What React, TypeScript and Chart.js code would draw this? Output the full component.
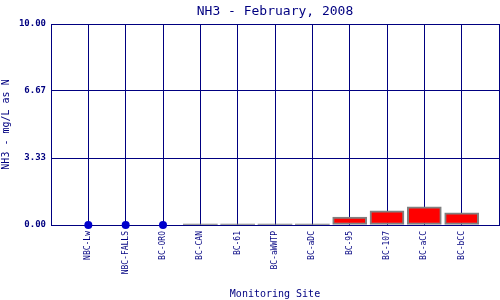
import React, { useEffect, useRef } from "react";
import { Chart, registerables } from "chart.js";

Chart.register(...registerables);

const titleText = "NH3 - February, 2008";
const sites = ["NBC-Lw", "NBC-FALLS", "BC-ORO", "BC-CAN", "BC-61", "BC-aWWTP", "BC-aDC", "BC-95", "BC-107", "BC-aCC", "BC-bCC"];
const barValues = [null, null, null, 0, 0, 0, 0, 0.4, 0.7, 0.9, 0.6];
const dotValues = [0, 0, 0, null, null, null, null, null, null, null, null];
const yTicks = [0, 3.33, 6.67, 10];

const NAVY = "#000080";
const FONT = "'DejaVu Sans Mono', 'Liberation Mono', monospace";

const areaTitle = {
  id: "areaTitle",
  afterDraw(chart: any) {
    const { ctx, chartArea } = chart;
    ctx.save();
    ctx.fillStyle = NAVY;
    ctx.font = `13px ${FONT}`;
    ctx.textAlign = "center";
    ctx.textBaseline = "middle";
    ctx.fillText(titleText, (chartArea.left + chartArea.right) / 2, 12);
    ctx.restore();
  },
};

export default function App() {
  const ref = useRef<HTMLCanvasElement>(null);
  useEffect(() => {
    document.body.style.margin = "0";
    const bars = sites.map((s, i) => (barValues[i] === null ? null : { x: i + 1, y: barValues[i] })).filter(Boolean);
    const dots = sites.map((s, i) => (dotValues[i] === null ? null : { x: i + 1, y: dotValues[i] })).filter(Boolean);
    const chart = new Chart(ref.current!, {
      type: "bar",
      plugins: [areaTitle],
      data: {
        datasets: [
          {
            type: "line",
            data: dots as any,
            showLine: false,
            pointRadius: 4,
            pointBackgroundColor: "#0000cc",
            pointBorderColor: "#0000cc",
            pointBorderWidth: 0,
            clip: false,
            order: 0,
          } as any,
          {
            type: "bar",
            data: bars as any,
            backgroundColor: (c: any) => (c.raw && c.raw.y === 0 ? "#808080" : "#ff0000"),
            borderColor: "#808080",
            borderWidth: (c: any) => (c.raw && c.raw.y === 0 ? 0 : 2),
            borderSkipped: false,
            barThickness: 34,
            minBarLength: 1,
            order: 1,
          } as any,
        ],
      },
      options: {
        animation: false,
        responsive: false,
        layout: { padding: { left: 0, right: 0, top: 24, bottom: 0 } },
        plugins: {
          legend: { display: false },
          tooltip: { enabled: false },
          title: { display: false },
        },
        scales: {
          x: {
            type: "linear",
            min: 0,
            max: 12,
            offset: false,
            afterBuildTicks: (axis: any) => {
              axis.ticks = Array.from({ length: 13 }, (_, i) => ({ value: i }));
            },
            afterFit: (axis: any) => {
              axis.height = 75;
              axis.paddingLeft = 0;
              axis.paddingRight = 0;
            },
            ticks: {
              autoSkip: false,
              maxRotation: 90,
              minRotation: 90,
              color: NAVY,
              font: { family: FONT, size: 8 },
              padding: 6,
              callback: (v: any) => (v >= 1 && v <= sites.length ? sites[v - 1] : ""),
            },
            grid: { color: NAVY, lineWidth: 1, drawTicks: false, offset: false },
            border: { color: NAVY },
            title: {
              display: true,
              text: "Monitoring Site",
              color: NAVY,
              font: { family: FONT, size: 10 },
              padding: { top: 0, bottom: 0 },
            },
          },
          y: {
            min: 0,
            max: 10,
            afterBuildTicks: (axis: any) => {
              axis.ticks = yTicks.map((v) => ({ value: v }));
            },
            afterFit: (axis: any) => {
              axis.width = 51;
            },
            ticks: {
              color: NAVY,
              font: { family: FONT, size: 9, weight: "bold" },
              padding: 5,
              callback: (v: any) => Number(v).toFixed(2),
            },
            grid: { color: NAVY, lineWidth: 1, drawTicks: false },
            border: { color: NAVY },
            title: {
              display: true,
              text: "NH3 - mg/L as N",
              color: NAVY,
              font: { family: FONT, size: 10 },
              padding: { top: 0, bottom: 6 },
            },
          },
        },
      },
    });
    return () => chart.destroy();
  }, []);
  return (
    <div style={{ position: "absolute", left: 0, top: 0, width: 500, height: 300, overflow: "hidden", background: "#fff" }}>
      <canvas ref={ref} width={503} height={300} />
    </div>
  );
}
